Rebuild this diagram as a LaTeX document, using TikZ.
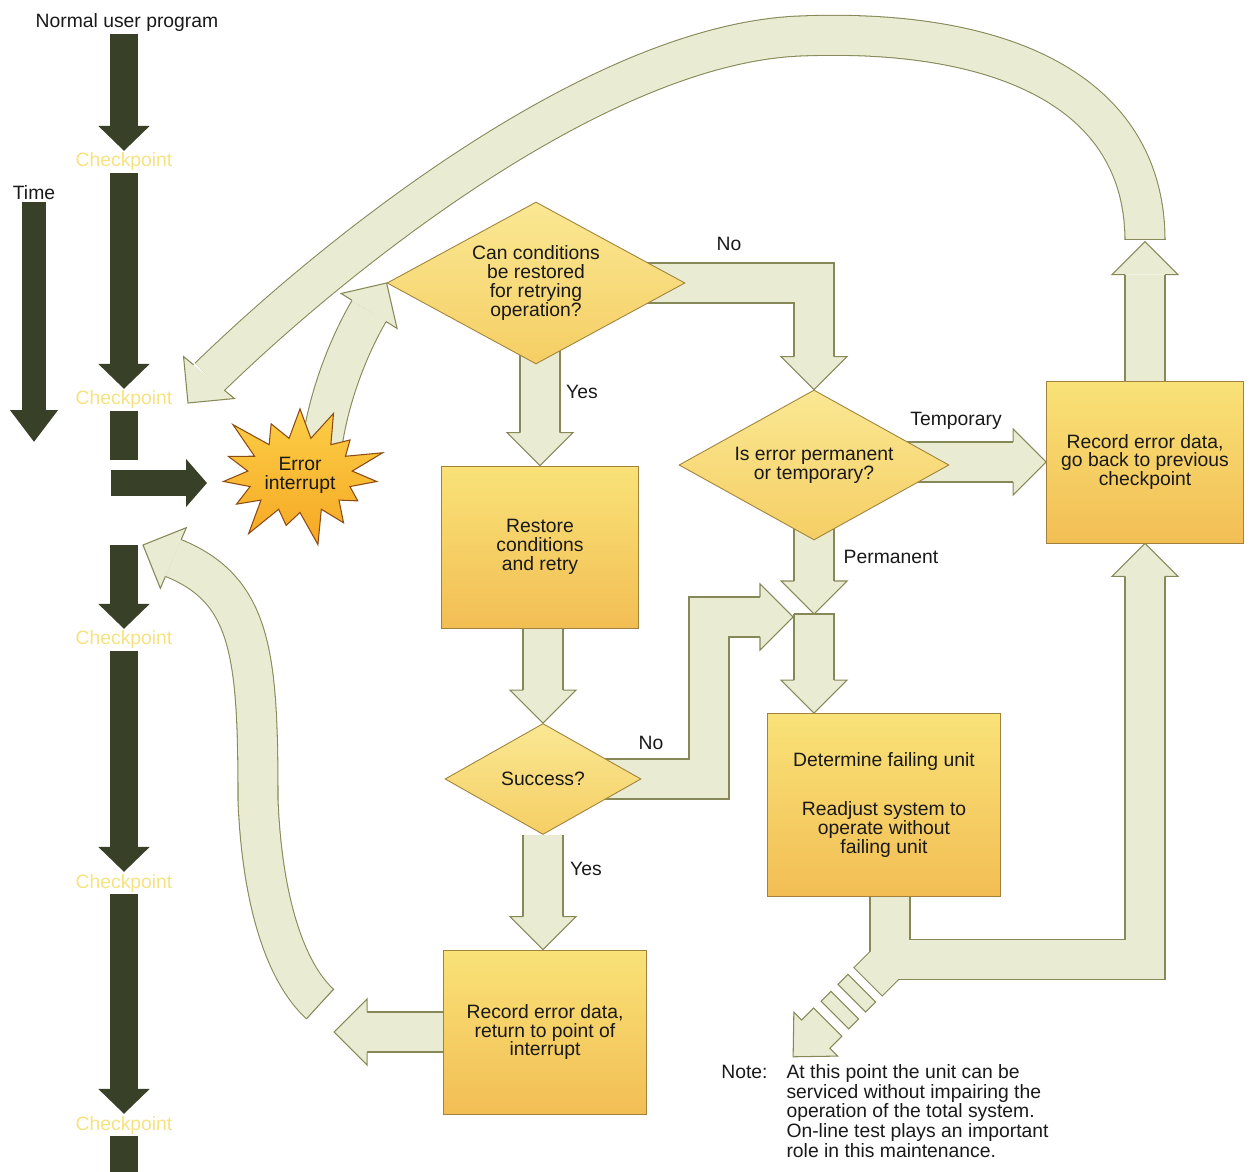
\documentclass[tikz,border=0pt]{standalone}
\usepackage{fontspec}
\setmainfont{Liberation Sans}
\usepackage{tikz}
\usetikzlibrary{arrows.meta, positioning, shapes.geometric, shapes.symbols, calc, backgrounds}
\usepackage{xcolor}

\definecolor{progdark}{RGB}{56,64,40}
\definecolor{armfill}{RGB}{233,236,210}
\definecolor{armline}{RGB}{135,136,88}
\definecolor{boxtop}{RGB}{249,226,120}
\definecolor{boxbot}{RGB}{242,190,84}
\definecolor{boxline}{RGB}{160,130,60}
\definecolor{starhi}{RGB}{252,206,70}
\definecolor{starlo}{RGB}{246,168,36}
\definecolor{starline}{RGB}{140,74,20}
\definecolor{cptext}{RGB}{246,226,128}

% head of a wide arrow: #1 tip, #2 direction of travel (degrees)
\newcommand{\fathead}[2]{%
    \filldraw[fathd] ($#1+(#2+180:0.66cm)+(#2+90:0.4cm)$) -- ($#1+(#2+180:0.66cm)+(#2+90:0.66cm)$) -- #1
        -- ($#1+(#2+180:0.66cm)+(#2-90:0.66cm)$) -- ($#1+(#2+180:0.66cm)+(#2-90:0.4cm)$);
}
% closing edge across the open end of a wide arrow
\newcommand{\fatcap}[2]{%
    \draw[armline, line width=0.6pt] ($#1+(#2+90:0.41cm)$) -- ($#1+(#2-90:0.41cm)$);
}

\begin{document}
\begin{tikzpicture}[x=0.02cm, y=-0.02cm,
    every node/.style={font=\fontsize{11}{10.8}\selectfont, text=black!90},
    box/.style={rectangle, draw=boxline, line width=0.5pt, top color=boxtop, bottom color=boxbot, align=center, inner sep=2pt},
    ask/.style={diamond, aspect=1.8, draw=boxline, line width=0.5pt, top color=boxtop!80!white, bottom color=boxtop!45!boxbot, align=center, inner sep=0pt},
    fatband/.style={draw=armline, line width=0.6pt, double=armfill, double distance=22.16pt, line join=miter},
    bandlo/.style={draw=armline, line width=23.36pt, line join=miter},
    bandhi/.style={draw=armfill, line width=22.16pt, line join=miter},
    fathd/.style={fill=armfill, draw=armline, line width=0.6pt, line join=miter},
    prog/.style={draw=progdark, line width=0.56cm, -{Triangle[length=0.5cm, width=1cm]}},
    progbar/.style={draw=progdark, line width=0.56cm},
    cp/.style={text=cptext, inner sep=1pt}]

    \useasboundingbox (0,0) rectangle (1251,1172);

    % program time line
    \node[inner sep=1pt] (usr) at (127,23) {Normal user program};
    \node[cp] (cp1) at (124,162) {Checkpoint};
    \node[cp] (cp2) at (124,400) {Checkpoint};
    \node[cp] (cp3) at (124,640) {Checkpoint};
    \node[cp] (cp4) at (124,883) {Checkpoint};
    \node[cp] (cp5) at (124,1125) {Checkpoint};
    \node[inner sep=1pt] (time) at (34,193) {Time};
    \coordinate (later) at (34,442);
    \coordinate (halt) at (124,460);
    \coordinate (trap) at (111,483);
    \coordinate (hit) at (207,483);
    \coordinate (goon) at (124,545);
    \coordinate (bottom) at (124,1172);

    \draw[prog] (usr.south -| cp1.north) -- (cp1.north);
    \draw[prog] (cp1.south) -- (cp2.north);
    \draw[progbar] (cp2.south) -- (halt);
    \draw[prog, line width=0.54cm, -{Triangle[length=0.42cm, width=0.94cm]}] (trap) -- (hit);
    \draw[prog] (goon) -- (cp3.north);
    \draw[prog] (cp3.south) -- (cp4.north);
    \draw[prog] (cp4.south) -- (cp5.north);
    \draw[progbar] (cp5.south) -- (bottom);
    \draw[prog, line width=0.48cm, -{Triangle[length=0.64cm, width=0.92cm]}] (time.south) -- (later);

    % flow chart
    \node[starburst, starburst points=15, starburst point height=0.8cm, minimum width=3.7cm, minimum height=3.1cm,
        top color=starhi, bottom color=starlo, draw=starline, line width=0.6pt, align=center, inner sep=0pt] (err) at (300,475) {Error\\interrupt};
    \node[ask, minimum width=5.96cm, minimum height=3.24cm] (canfix) at (536,283) {Can conditions\\be restored\\for retrying\\operation?};
    \node[ask, minimum width=5.4cm, minimum height=3cm] (kind) at (814,465) {Is error permanent\\or temporary?};
    \node[ask, minimum width=3.92cm, minimum height=2.22cm] (ok) at (543,779) {Success?};
    \node[box, minimum width=3.94cm, minimum height=3.24cm] (retry) at (540,547) {Restore\\conditions\\and retry};
    \node[box, minimum width=4.06cm, minimum height=3.28cm] (resume) at (545,1032) {Record error data,\\return to point of\\interrupt};
    \node[box, minimum width=4.66cm, minimum height=3.66cm] (isolate) at (884,805) {Determine failing unit\\[17pt]Readjust system to\\operate without\\failing unit};
    \node[box, minimum width=3.94cm, minimum height=3.24cm] (rollback) at (1145,462) {Record error data,\\go back to previous\\checkpoint};

    \node (no1) at (729,244) {No};
    \node (yes1) at (582,392) {Yes};
    \node (temp) at (956,421) {Temporary};
    \node (perm) at (891,557) {Permanent};
    \node (no2) at (651,743) {No};
    \node (yes2) at (586,869) {Yes};
    \node[anchor=north west, inner sep=0pt] (note) at (721,1064) {\begin{tabular}{@{}l@{\hspace{10.8pt}}l@{}}
        Note: & At this point the unit can be\\
              & serviced without impairing the\\
              & operation of the total system.\\
              & On-line test plays an important\\
              & role in this maintenance.\end{tabular}};

    \coordinate (join) at (814,614);
    \coordinate (joinL) at (793,617);
    \coordinate (unitin) at (join |- isolate.north);
    \coordinate (top) at ($(rollback.north)+(0,-139)$);
    \coordinate (arcst) at ($(top)+(0,-2)$);
    \coordinate (backto) at (188,403);
    \coordinate (backin) at (143,545);
    \coordinate (tipK) at ($(resume.west)+(-109,0)$);
    \coordinate (split) at ($(isolate.south)+(6,63)$);
    \coordinate (stubend) at ($(split)+(225:0.62cm)$);
    \coordinate (lstart) at (320,1004);

    \begin{pgfonlayer}{background}
        % back to previous checkpoint
        \draw[fatband] (arcst) .. controls (1144,90) and (1000,28) .. (800,36)
            .. controls (600,44) and (340,250) .. ($(backto)+(50.5:0.66cm)$);
        \fathead{(backto)}{230.5}
        \fatcap{(arcst)}{90}
        % interrupt to first question
        \draw[fatband] ($(err.center)+(22,-30)$) .. controls (330,390) and (352,340) .. ($(canfix.west)+(238:0.66cm)$);
        \fathead{(canfix.west)}{58}
        \draw[fatband] (canfix.center -| retry.north) -- ($(retry.north)+(90:0.66cm)$);
        \fathead{(retry.north)}{-90}
        \draw[fatband] (canfix.center) -| ($(kind.north)+(90:0.66cm)$);
        \fathead{(kind.north)}{-90}
        \draw[fatband] (retry.center -| ok.north) -- ($(ok.north)+(90:0.66cm)$);
        \fathead{(ok.north)}{-90}
        \draw[fatband] (ok.center |- ok.south) -- ($(resume.north -| ok.south)+(90:0.66cm)$);
        \fathead{(resume.north -| ok.south)}{-90}
        \draw[fatband] (ok.center) -| ($(joinL)+(-84,0)$) -- ($(joinL)+(180:0.66cm)$);
        \fathead{(joinL)}{0}
        \draw[fatband] (kind.center) -- ($(join)+(90:0.66cm)$);
        \fathead{(join)}{-90}
        \draw[fatband] (join) -- ($(unitin)+(90:0.66cm)$);
        \fathead{(unitin)}{-90}
        \fatcap{(join)}{-90}
        \draw[fatband] (kind.center |- rollback.west) -- ($(rollback.west)+(180:0.66cm)$);
        \fathead{(rollback.west)}{0}
        \draw[fatband] (rollback.center) -- ($(top)+(-90:0.66cm)$);
        \fathead{(top)}{90}
        \draw[fatband] (resume.center) -- ($(tipK)+(0:0.66cm)$);
        \fathead{(tipK)}{180}
        % back to the interrupted program
        \draw[fatband] (lstart) .. controls (285,972) and (262,900) .. (258,800)
            .. controls (258,655) and (252,590) .. ($(backin)+(-23.2:0.66cm)$);
        \fathead{(backin)}{156.8}
        \fatcap{(lstart)}{137.6}
        % failing unit: back to checkpoint, and out for service
        \draw[bandlo] ($(isolate.center)+(6,0)$) -- (split) -| ($(rollback.south)+(-90:0.66cm)$);
        \draw[bandlo] (split) -- (stubend);
        \draw[bandhi] ($(isolate.center)+(6,0)$) -- (split) -| ($(rollback.south)+(-90:0.66cm)$);
        \draw[bandhi] (split) -- (stubend);
        \fathead{(rollback.south)}{90}
        \fatcap{(stubend)}{225}
        \begin{scope}[shift={(split)}, rotate=225]
            \filldraw[fathd] (40,-19.5) -- (54,-19.5) -- (54,19.5) -- (40,19.5) -- cycle;
            \filldraw[fathd] (64,-19.5) -- (78,-19.5) -- (78,19.5) -- (64,19.5) -- cycle;
            \filldraw[fathd] (88,-20) -- (105,-20) -- (105,-31) -- (137,0) -- (105,31) -- (105,20) -- (88,20) -- cycle;
        \end{scope}
    \end{pgfonlayer}
\end{tikzpicture}
\end{document}
